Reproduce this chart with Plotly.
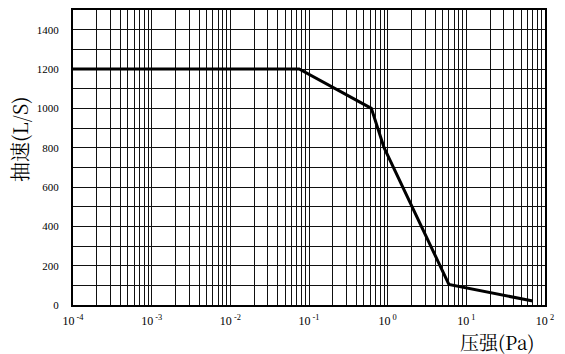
import plotly.graph_objects as go

# Data
pressure_pa = [1e-4, 0.075, 0.62, 0.9, 6.0, 70.0]
pump_speed = [1200, 1200, 1000, 800, 105, 20]

decade_exponents = [-4, -3, -2, -1, 0, 1, 2]
y_tick_values = list(range(0, 1501, 100))
y_tick_labels = [str(v) if v % 200 == 0 and v <= 1400 else "" for v in y_tick_values]

# log minor grid positions (1..9 x each decade)
x_tick_values = []
x_tick_labels = []
for e in decade_exponents:
    for m in range(1, 10):
        if e == 2 and m > 1:
            break
        x_tick_values.append(m * 10.0 ** e)
        x_tick_labels.append(f"10<sup> {e}</sup>" if m == 1 else "")

SERIF = "Liberation Serif, DejaVu Serif, serif"

fig = go.Figure()
fig.add_trace(go.Scatter(
    x=pressure_pa, y=pump_speed, mode="lines",
    line=dict(color="black", width=3),
    showlegend=False, hoverinfo="skip",
))

fig.update_layout(
    width=565, height=354,
    margin=dict(l=73, r=20, t=8, b=49),
    paper_bgcolor="white", plot_bgcolor="white",
    font=dict(family=SERIF, color="black", size=11),
    xaxis=dict(
        type="log", range=[-4, 2],
        tickmode="array", tickvals=x_tick_values, ticktext=x_tick_labels,
        showgrid=True, gridcolor="#111", gridwidth=1,
        showline=True, linecolor="black", linewidth=2, mirror=True,
        ticks="", zeroline=False,
        tickfont=dict(size=12, family=SERIF, color="black"),
        ticklabelstandoff=4,
    ),
    yaxis=dict(
        range=[0, 1500],
        tickmode="array", tickvals=y_tick_values, ticktext=y_tick_labels,
        showgrid=True, gridcolor="#111", gridwidth=1,
        showline=True, linecolor="black", linewidth=2, mirror=True,
        ticks="", zeroline=False,
        tickfont=dict(size=11, family=SERIF, color="black"),
        ticklabelstandoff=10,
    ),
    annotations=[
        dict(text="抽速(L/S)", xref="paper", yref="paper",
             x=-0.112, y=0.56, xanchor="center", yanchor="middle",
             textangle=-90, showarrow=False,
             font=dict(family="Noto Serif CJK SC, Noto Sans CJK SC", size=20, color="black")),
        dict(text="压强(Pa)", xref="paper", yref="paper",
             x=0.9, y=-0.125, xanchor="center", yanchor="middle",
             showarrow=False,
             font=dict(family="Noto Serif CJK SC, Noto Sans CJK SC", size=19, color="black")),
    ],
)

fig.write_html("out.html")
